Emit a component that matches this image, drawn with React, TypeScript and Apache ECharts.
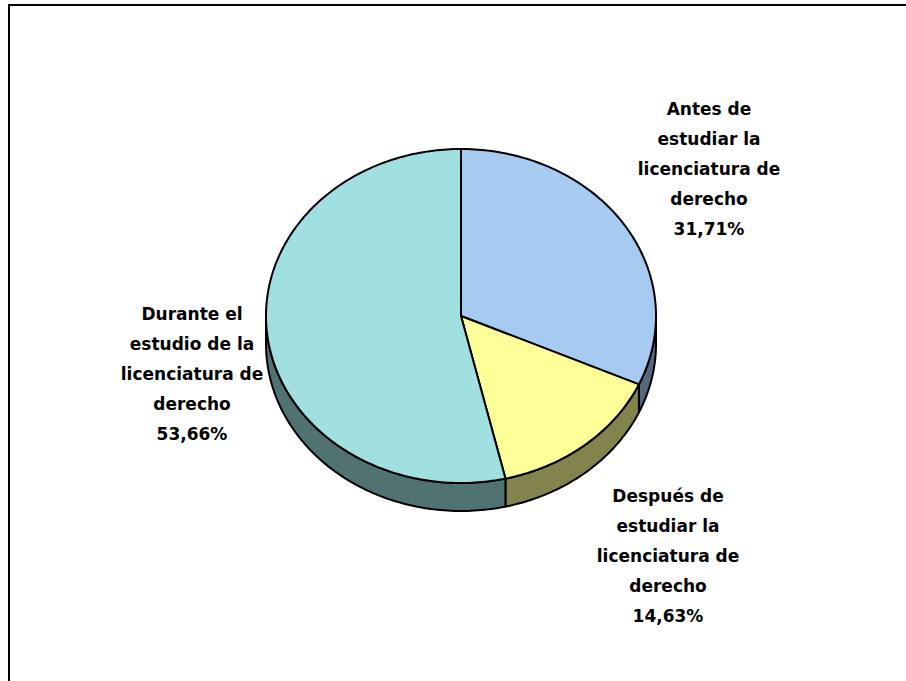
import React, { useEffect, useRef } from "react";
import * as echarts from "echarts";

const categories = [
  "Antes de\nestudiar la\nlicenciatura de\nderecho",
  "Después de\nestudiar la\nlicenciatura de\nderecho",
  "Durante el\nestudio de la\nlicenciatura de\nderecho",
];
const values = [31.71, 14.63, 53.66];

const topColors = ["#A6CAF0", "#FFFF99", "#A0E0E0"];
const sideColors = ["#55687E", "#83834E", "#507272"];
const labelCenters = [
  [709, 169],
  [668, 556],
  [192, 374],
];

const CX = 461;
const CY = 316;
const RX = 195;
const RY = 167;
const DEPTH = 28;

function pt(deg: number, dy = 0): number[] {
  const r = (deg * Math.PI) / 180;
  return [CX + RX * Math.cos(r), CY - RY * Math.sin(r) + dy];
}

function arcPoints(from: number, to: number, dy = 0): number[][] {
  const pts: number[][] = [];
  const step = from > to ? -1 : 1;
  const n = Math.ceil(Math.abs(to - from));
  for (let i = 0; i <= n; i++) {
    const d = i === n ? to : from + step * i;
    pts.push(pt(d, dy));
  }
  return pts;
}

export default function App() {
  const ref = useRef<HTMLDivElement>(null);
  useEffect(() => {
    if (!ref.current) return;
    const chart = echarts.init(ref.current, undefined, { renderer: "svg" });
    const total = values.reduce((a, b) => a + b, 0);
    const renderItem = (params: any, api: any) => {
      const idx = params.dataIndex;
      let cum = 0;
      for (let i = 0; i < idx; i++) cum += values[i];
      const v = api.value(0);
      const start = 90 - (360 * cum) / total;
      const end = start - (360 * v) / total;
      const children: any[] = [];
      const lo = Math.max(end, -180);
      const hi = Math.min(start, 0);
      if (lo < hi) {
        const top = arcPoints(hi, lo, 0);
        const bottom = arcPoints(lo, hi, DEPTH);
        children.push({
          type: "polygon",
          shape: { points: top.concat(bottom) },
          style: { fill: sideColors[idx], stroke: "#000", lineWidth: 2, lineJoin: "round" },
        });
      }
      children.push({
        type: "polygon",
        shape: { points: [[CX, CY]].concat(arcPoints(start, end, 0)) },
        style: { fill: topColors[idx], stroke: "#000", lineWidth: 2, lineJoin: "round" },
      });
      const pct = v.toFixed(2).replace(".", ",") + "%";
      children.push({
        type: "text",
        x: labelCenters[idx][0],
        y: labelCenters[idx][1],
        style: {
          text: categories[idx] + "\n" + pct,
          fill: "#000",
          font: "bold 17px 'DejaVu Sans', Verdana, sans-serif",
          lineHeight: 30,
          align: "center",
          verticalAlign: "middle",
        },
      });
      return { type: "group", children };
    };
    chart.setOption({
      animation: false,
      backgroundColor: "#fff",
      graphic: [
        {
          type: "rect",
          shape: { x: 9, y: 5, width: 960, height: 760 },
          style: { fill: "none", stroke: "#000", lineWidth: 2 },
          z: -1,
        },
      ],
      series: [
        {
          type: "custom",
          coordinateSystem: "none",
          renderItem,
          data: values.map((v, i) => ({ name: categories[i], value: v })),
        },
      ],
    });
    return () => chart.dispose();
  }, []);
  return (
    <div
      ref={ref}
      style={{ position: "absolute", left: 0, top: 0, width: 906, height: 681 }}
    />
  );
}
